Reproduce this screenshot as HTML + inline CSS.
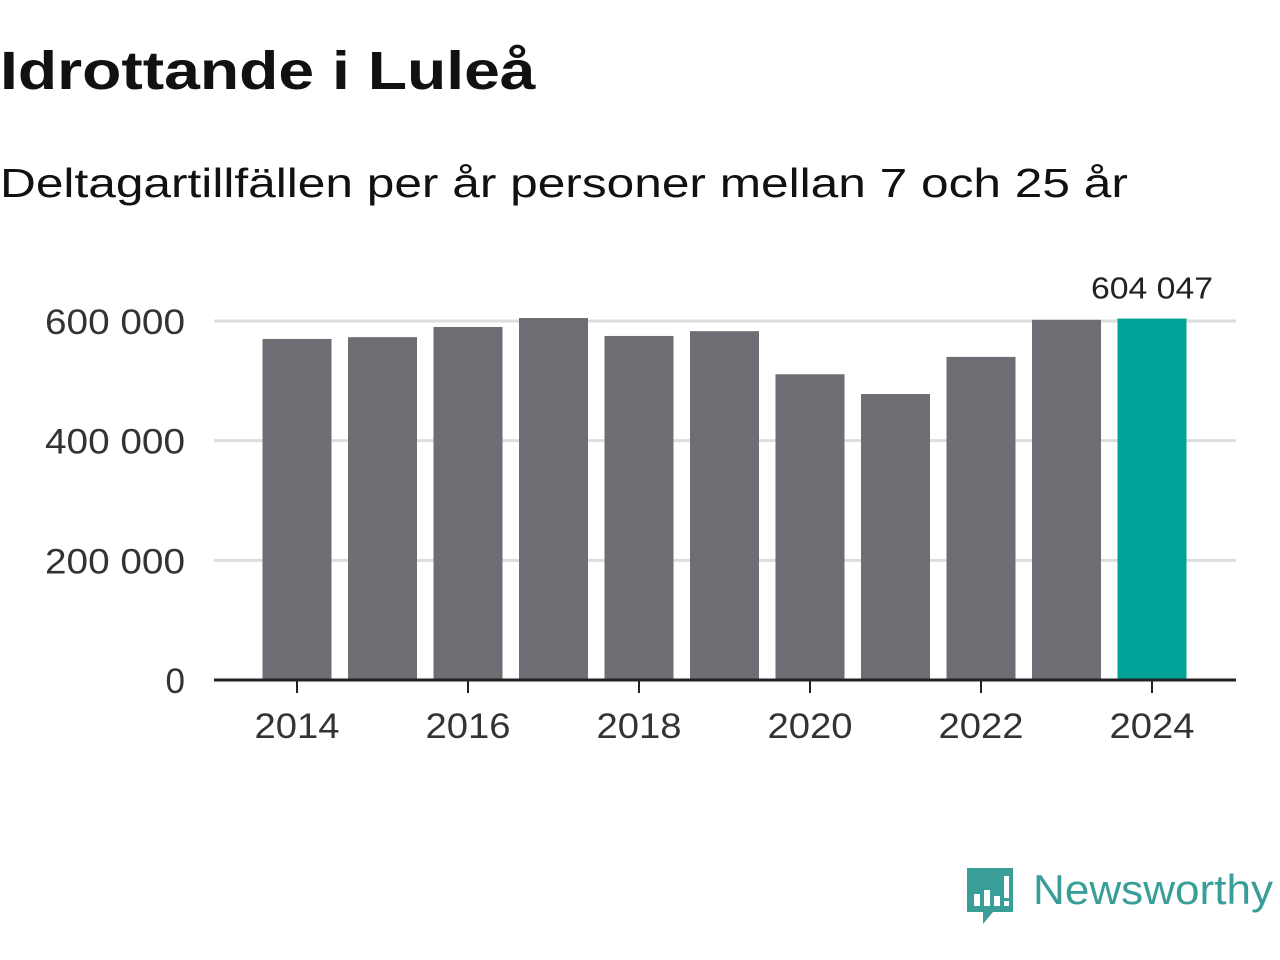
<!DOCTYPE html>
<html><head><meta charset="utf-8"><style>
body{margin:0;width:1280px;height:960px;background:#fff;font-family:"Liberation Sans",sans-serif;overflow:hidden;position:relative}
#title{position:absolute;left:0;top:40px;font-size:54px;font-weight:bold;color:#111;margin:0;transform:scaleX(1.19);transform-origin:left;white-space:nowrap}
#sub{position:absolute;left:0;top:160px;font-size:41px;color:#111;transform:scaleX(1.21);transform-origin:left;white-space:nowrap}
#logo{position:absolute;left:965px;top:866px}
</style></head><body>
<h1 id="title">Idrottande i Luleå</h1>
<div id="sub">Deltagartillfällen per år personer mellan 7 och 25 år</div>
<svg id="chart" width="1280" height="800" style="position:absolute;left:0;top:0"></svg>
<svg id="logo" width="315" height="62">
<path d="M2 2h46v44h-20l-10 12v-12h-16z" fill="#3a9e98"/>
<rect x="9" y="28" width="6" height="12" fill="#fff"/><rect x="19" y="24" width="6" height="16" fill="#fff"/><rect x="29" y="30" width="6" height="10" fill="#fff"/><rect x="39" y="10" width="5" height="22" fill="#fff"/><rect x="39" y="35" width="5" height="5" fill="#fff"/>
<text x="68" y="38" font-size="42" fill="#3a9e98" textLength="240" lengthAdjust="spacingAndGlyphs" font-family="Liberation Sans,sans-serif">Newsworthy</text>
</svg>
<script>
const years=[2014,2015,2016,2017,2018,2019,2020,2021,2022,2023,2024];
const values=[570000,573000,590000,605000,575000,583000,511000,478000,540000,602000,604047];
const yTicks=[0,200000,400000,600000];
const yTickLabels=["0","200 000","400 000","600 000"];
const NS="http://www.w3.org/2000/svg";
const svg=document.getElementById('chart');
const x0=214,x1=1236,yb=680,yt=321;
const y=v=>yb-(v/600000)*(yb-yt);
const step=85.5,bw=69;
const xc=yr=>297+(yr-2014)*step;
function mk(t,a){const e=document.createElementNS(NS,t);for(const k in a)e.setAttribute(k,a[k]);svg.appendChild(e);return e;}
yTicks.forEach((t,i)=>{
 if(t>0){const g=mk('line',{x1:x0,x2:x1,y1:y(t),y2:y(t),stroke:'#dddddd','stroke-width':3});
 
 }
 const a={x:185,y:y(t)+13,'text-anchor':'end','font-size':35,fill:'#333'};
 if(t>0){a.textLength=140;a.lengthAdjust='spacingAndGlyphs';}
 const l=mk('text',a);
 l.textContent=yTickLabels[i];
 
 
});
years.forEach((yr,i)=>{
 const last=i===years.length-1;
 const r=mk('rect',{x:xc(yr)-bw/2,y:y(values[i]),width:bw,height:yb-y(values[i]),fill:last?'#00a398':'#6e6d74'});
 
 
 if(yr%2===0){
  mk('line',{x1:xc(yr),x2:xc(yr),y1:yb,y2:yb+13,stroke:'#222','stroke-width':2});
  const t=mk('text',{x:xc(yr),y:738,'text-anchor':'middle','font-size':35,fill:'#333',textLength:85,lengthAdjust:'spacingAndGlyphs'});
  t.textContent=yr;
  
  
 }
 if(last){
  const v=mk('text',{x:xc(yr),y:y(values[i])-20,'text-anchor':'middle','font-size':31,fill:'#222',textLength:122,lengthAdjust:'spacingAndGlyphs'});
  v.textContent=values[i].toString().replace(/\B(?=(\d{3})+(?!\d))/g,' ');
  
  
 }
});
const ax=mk('line',{x1:x0,x2:x1,y1:yb,y2:yb,stroke:'#222','stroke-width':3});


</script>
</body></html>
